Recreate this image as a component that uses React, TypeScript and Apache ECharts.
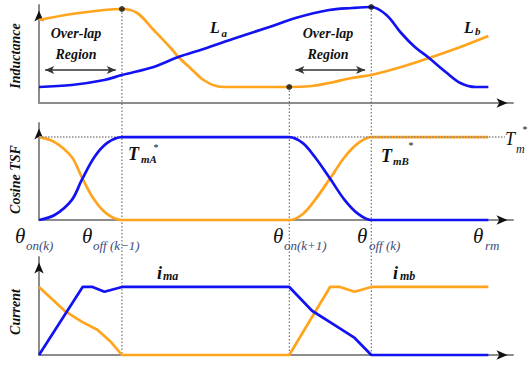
import React, { useEffect, useRef } from 'react';
import * as echarts from 'echarts';

// ---------- data (rotor angle axis in arbitrary units 0..100) ----------
const ANGLE_MAX = 100;
// θoff(k−1), θon(k+1), θoff(k)
const switchAngles = [17.5, 52.8, 70.1];
const overlapRegions = [
  [0, 17.5],
  [52.8, 70.1],
];

// Inductance profiles (arbitrary units)
const inductanceA = [
  [0, 16], [6.9, 18], [13.8, 23], [17.5, 28], [24.2, 36], [29.4, 46], [34.7, 54],
  [41.5, 65], [48.6, 76], [54.1, 85], [61.2, 93], [66, 95], [70.1, 96], [73.3, 88],
  [76.4, 70], [79.3, 56], [82.3, 45], [85.8, 31], [88.9, 20], [92.1, 16], [94.8, 16],
];
const inductanceB = [
  [0, 83], [6.9, 89], [13.8, 93], [17.5, 94], [20.7, 90], [24.2, 73], [27.8, 55],
  [29.4, 46], [31.9, 35], [34.7, 23], [37.4, 17], [39.9, 16], [52.8, 16], [57.6, 17],
  [61.2, 20], [66, 25], [70.1, 28], [76.4, 36], [82.3, 45], [88.9, 56], [94.8, 67],
];
const switchDots = [
  [17.5, 94],
  [52.8, 16],
  [70.1, 96],
];

// Cosine TSF (normalised to Tm*)
const tsfA = [
  [0, 0], [3.3, 0.06], [6.9, 0.24], [9, 0.48], [11.7, 0.76], [14.4, 0.93], [17.5, 1],
  [52.8, 1], [55.6, 0.93], [58.2, 0.76], [61.4, 0.5], [64.5, 0.24], [67.4, 0.07],
  [70.1, 0], [94.8, 0],
];
const tsfB = [
  [0, 1], [3.3, 0.94], [6.9, 0.76], [9, 0.52], [11.7, 0.24], [14.4, 0.07], [17.5, 0],
  [52.8, 0], [55.6, 0.07], [58.2, 0.24], [61.4, 0.5], [64.5, 0.76], [67.4, 0.93],
  [70.1, 1], [94.8, 1],
];
const tsfReference = [
  [0, 1],
  [98.3, 1],
];

// Phase currents (normalised)
const currentA = [
  [0, 0], [9.2, 1], [11.3, 1], [13.8, 0.93], [17.5, 1], [52.8, 1], [57.6, 0.65],
  [63.3, 0.4], [66.6, 0.25], [70.1, 0], [94.8, 0],
];
const currentB = [
  [0, 1], [5.4, 0.65], [9, 0.49], [12.3, 0.37], [15.2, 0.19], [17.5, 0], [52.8, 0],
  [61.4, 1], [63.5, 1], [66.6, 0.93], [70.1, 1], [94.8, 1],
];

// ---------- styling ----------
const SERIF = 'Liberation Serif, serif';
const BLUE = '#1212f2';
const ORANGE = '#ffa41c';
const AXIS_GRAY = '#8c8c8c';

const grids = [
  { left: 34, right: 14, top: 5, height: 98 },
  { left: 34, right: 14, top: 123, height: 97 },
  { left: 34, right: 14, top: 257, height: 98 },
];
const yMax = [98, 1.17, 1.44];
const yNames = ['Inductance', 'Cosine TSF', 'Current'];
const yNamePad = [
  [0, 4, 0, 0],
  [0, 16, 0, 0],
  [0, 12, 0, 0],
];

function buildAxes() {
  const xAxis: any[] = [];
  const yAxis: any[] = [];
  grids.forEach((_, g) => {
    const hidden = { axisTick: { show: false }, axisLabel: { show: false }, splitLine: { show: false } };
    xAxis.push({
      type: 'value', gridIndex: g, min: 0, max: ANGLE_MAX, position: 'bottom',
      axisLine: { lineStyle: { color: AXIS_GRAY, width: 2 } }, ...hidden,
    });
    xAxis.push({
      type: 'value', gridIndex: g, min: 0, max: ANGLE_MAX, position: 'bottom',
      axisLine: {
        symbol: ['none', 'arrow'], symbolSize: [7, 11], symbolOffset: [0, -5.5],
        lineStyle: { color: '#111', width: 0 },
      },
      ...hidden,
    });
    yAxis.push({
      type: 'value', gridIndex: g, min: 0, max: yMax[g], position: 'left',
      name: yNames[g], nameLocation: 'middle', nameRotate: 90, nameGap: 17,
      nameTextStyle: {
        fontFamily: SERIF, fontStyle: 'italic', fontWeight: 'bold', fontSize: 14,
        color: '#111', padding: yNamePad[g],
      },
      axisLine: { lineStyle: { color: AXIS_GRAY, width: 2 } }, ...hidden,
    });
    yAxis.push({
      type: 'value', gridIndex: g, min: 0, max: yMax[g], position: 'left',
      axisLine: {
        symbol: ['none', 'arrow'], symbolSize: [7, 11], symbolOffset: [0, -5.5],
        lineStyle: { color: '#111', width: 0 },
      },
      ...hidden,
    });
  });
  return { xAxis, yAxis };
}

function line(name: string, g: number, data: number[][], color: string, smooth: number | boolean, z = 3) {
  return {
    name, type: 'line', xAxisIndex: g * 2, yAxisIndex: g * 2, data, smooth,
    symbol: 'none', clip: false, z,
    lineStyle: { color, width: 2.7 },
  };
}

function buildOption() {
  const { xAxis, yAxis } = buildAxes();
  return {
    animation: false,
    backgroundColor: '#ffffff',
    textStyle: { fontFamily: SERIF },
    grid: grids,
    xAxis,
    yAxis,
    series: [
      line('Lb', 0, inductanceB, ORANGE, 0.35, 3),
      line('La', 0, inductanceA, BLUE, 0.35, 4),
      {
        name: 'switch points', type: 'scatter', xAxisIndex: 0, yAxisIndex: 0,
        data: switchDots, symbolSize: 6, itemStyle: { color: '#111' }, z: 6,
        markLine: {
          silent: true, symbol: ['arrow', 'arrow'], symbolSize: [6, 9],
          lineStyle: { color: '#333', width: 1.5, type: 'solid' },
          label: { show: false },
          data: overlapRegions.map(([a, b]) => [{ coord: [a + 1.3, 33] }, { coord: [b - 1.3, 33] }]),
        },
      },
      line('TSF b', 1, tsfB, ORANGE, 0.35, 3),
      {
        name: 'Tm*', type: 'line', xAxisIndex: 2, yAxisIndex: 2, data: tsfReference,
        symbol: 'none', z: 4, lineStyle: { color: '#8a8a8a', width: 1.5, type: [1.5, 1.5] },
      },
      line('TSF a', 1, tsfA, BLUE, 0.35, 5),
      line('imb', 2, currentB, ORANGE, false, 3),
      line('ima', 2, currentA, BLUE, false, 4),
    ],
  };
}

type TOpt = { bold?: boolean; italic?: boolean; align?: string; color?: string };
function T(text: string, x: number, y: number, size: number, o: TOpt = {}) {
  return {
    type: 'text', x, y, silent: true, z: 20,
    style: {
      text, fontSize: size, fontFamily: SERIF,
      fontStyle: o.italic === false ? 'normal' : 'italic',
      fontWeight: o.bold ? 'bold' : 'normal',
      fill: o.color || '#111', align: o.align || 'left', verticalAlign: 'middle',
    },
  };
}

const SUB = '#3c4b78';
const labels = [
  // top panel
  T('Over-lap', 76, 33, 14, { bold: true, align: 'center' }),
  T('Region', 76, 54, 14, { bold: true, align: 'center' }),
  T('Over-lap', 328, 33, 14, { bold: true, align: 'center' }),
  T('Region', 328, 54, 14, { bold: true, align: 'center' }),
  T('L', 210, 27.5, 16, { bold: true }),
  T('a', 221.5, 33, 11, { bold: true }),
  T('L', 464, 27, 16, { bold: true }),
  T('b', 475, 31, 11, { bold: true }),
  // middle panel
  T('T', 128, 154, 18, { bold: true }),
  T('mA', 141, 158.5, 11, { bold: true }),
  T('*', 153, 147, 10),
  T('T', 381, 156, 18, { bold: true }),
  T('mB', 393, 160.5, 11, { bold: true }),
  T('*', 408, 145, 10),
  T('T', 505, 139, 18),
  T('m', 516, 149, 12),
  T('*', 522, 129, 10),
  // angle labels
  T('θ', 15, 236, 21),
  T('on(k)', 26, 245, 13, { color: SUB }),
  T('θ', 82, 236, 21),
  T('off (k−1)', 93, 245, 13, { color: SUB }),
  T('θ', 273, 236, 21),
  T('on(k+1)', 284, 245, 13, { color: SUB }),
  T('θ', 357, 236, 21),
  T('off (k)', 369, 245, 13, { color: SUB }),
  T('θ', 473, 236, 21),
  T('rm', 485, 245, 13, { color: SUB }),
  // bottom panel
  T('i', 157, 273, 18, { bold: true }),
  T('ma', 163, 276, 12, { bold: true }),
  T('i', 393, 273, 18, { bold: true }),
  T('mb', 400, 276, 12, { bold: true }),
];

export default function App() {
  const ref = useRef<HTMLDivElement>(null);
  useEffect(() => {
    if (!ref.current) return;
    const chart = echarts.init(ref.current, undefined, { renderer: 'svg' });
    chart.setOption(buildOption() as any);
    const guides = switchAngles.map((a, i) => {
      const p0 = chart.convertToPixel({ gridIndex: 0 } as any, [a, switchDots[i][1]]) as number[];
      const p1 = chart.convertToPixel({ gridIndex: 2 } as any, [a, 0]) as number[];
      return {
        type: 'line', silent: true, z: 1,
        shape: { x1: p0[0], y1: p0[1], x2: p1[0], y2: p1[1] },
        style: { stroke: '#555', lineWidth: 1, lineDash: [1.5, 2] },
      };
    });
    chart.setOption({ graphic: [...guides, ...labels] } as any);
    return () => chart.dispose();
  }, []);
  return (
    <div
      ref={ref}
      style={{ position: 'fixed', left: 0, top: 0, width: 527, height: 366, background: '#fff' }}
    />
  );
}
